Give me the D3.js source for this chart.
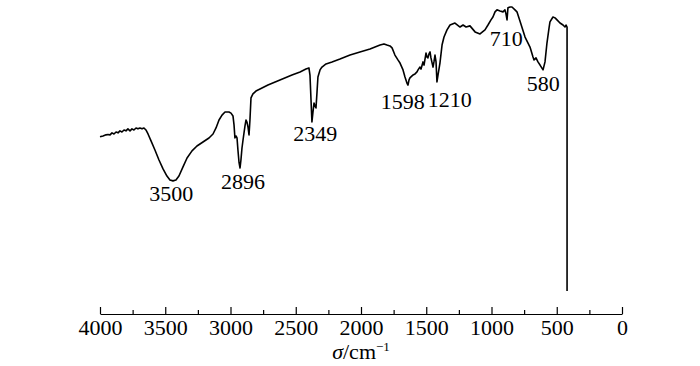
<!DOCTYPE html>
<html>
<head>
<meta charset="utf-8">
<script src="https://cdn.jsdelivr.net/npm/d3@7"></script>
<style>
html,body{margin:0;padding:0;background:#fff;}
svg{display:block;}
text{font-family:"Liberation Serif","Times New Roman",serif;fill:#000;}
</style>
</head>
<body>
<svg id="chart" width="700" height="366"></svg>
<script>
// Wavenumber (cm^-1) and transmittance (arbitrary %)
const wavenumber = [4000,3977,3954,3939,3923,3908,3893,3877,3862,3847,3832,3816,3801,3786,3770,3755,3740,3724,3709,3694,3678,3663,3648,3632,3609,3579,3548,3517,3487,3464,3441,3418,3395,3364,3333,3295,3257,3211,3165,3134,3111,3088,3065,3042,3012,2996,2981,2973,2966,2958,2950,2943,2935,2927,2920,2912,2904,2889,2881,2874,2866,2858,2851,2843,2828,2805,2774,2713,2621,2529,2467,2422,2399,2391,2383,2376,2368,2360,2353,2345,2337,2330,2314,2299,2268,2222,2161,2084,2008,1931,1854,1824,1801,1778,1762,1740,1717,1701,1678,1663,1648,1640,1632,1625,1609,1602,1586,1571,1563,1548,1540,1525,1517,1502,1494,1487,1479,1471,1464,1448,1441,1433,1425,1418,1410,1395,1379,1364,1341,1318,1280,1241,1218,1195,1165,1126,1088,1050,1027,1004,989,973,958,935,912,897,889,881,874,858,843,820,805,782,743,705,682,674,659,644,628,605,590,575,559,552,529,513,498,475,452,437,429,421,421];
const transmittance = [53.9,54.2,54.6,54.7,54.6,55.3,54.9,55.6,55.3,56.0,55.6,56.3,56.0,56.7,56.0,56.7,56.3,57.0,56.7,57.0,56.7,57.0,56.3,54.9,52.5,49.3,45.8,42.7,40.2,38.8,38.5,38.8,40.2,43.4,46.5,49.0,50.7,52.1,53.5,54.9,57.0,59.8,61.5,62.6,62.6,62.2,61.2,58.1,53.5,54.2,53.5,49.3,45.1,43.0,45.8,50.0,52.8,57.7,59.8,59.1,57.4,54.6,59.8,67.5,68.9,69.9,70.6,72.0,73.8,75.5,76.6,77.6,78.0,75.5,66.8,59.1,62.6,65.7,64.7,64.0,69.6,74.8,77.3,78.3,79.4,80.1,81.1,82.5,83.6,84.6,86.0,86.4,86.0,85.7,85.0,82.5,80.8,79.7,77.3,74.8,72.7,72.0,73.8,74.5,75.2,75.5,75.9,76.6,77.3,78.3,77.6,80.1,79.0,83.2,81.8,81.5,82.9,83.6,81.5,78.3,80.1,82.5,80.1,73.1,75.5,79.7,86.0,88.8,91.3,93.0,93.7,92.3,93.0,92.3,92.7,90.6,89.9,91.3,93.0,94.8,95.8,97.6,98.3,97.9,97.6,98.3,96.9,94.8,99.0,99.3,99.3,98.3,97.6,94.4,88.8,85.3,81.8,80.8,81.5,80.1,79.0,77.3,80.1,86.7,92.0,94.1,95.8,95.5,94.8,93.7,93.0,92.3,93.0,92.3,0];

const majorTicks = [4000,3500,3000,2500,2000,1500,1000,500,0];
const minorTicks = [3750,3250,2750,2250,1750,1250,750,250];

const peakLabels = ["3500","2896","2349","1598","1210","710","580"];
const peakX = [3454,2904,2351,1681,1320,887,604];      // label centre, in wavenumber
const peakY = [31.5,35.7,52.4,63.6,64.3,85.7,70.0];      // label baseline, in transmittance units

const svg = d3.select("#chart");
const x = d3.scaleLinear().domain([4000,0]).range([100,622]);
const y = d3.scaleLinear().domain([0,100]).range([291,5]);

const pts = wavenumber.map((w,i)=>[w,transmittance[i]]);
svg.append("path")
  .datum(pts)
  .attr("fill","none")
  .attr("stroke","#000")
  .attr("stroke-width",1.6)
  .attr("stroke-linejoin","round")
  .attr("d", d3.line().x(d=>x(d[0])).y(d=>y(d[1])));

const axisY = 314;
const gMinor = svg.append("g").attr("transform",`translate(0,${axisY})`)
  .call(d3.axisBottom(x).tickValues(minorTicks).tickSizeInner(-4).tickSizeOuter(0).tickFormat(""));
gMinor.select(".domain").remove();
gMinor.selectAll("line").attr("stroke","#000").attr("stroke-width",1.2);

const gMajor = svg.append("g").attr("transform",`translate(0,${axisY})`)
  .call(d3.axisBottom(x).tickValues(majorTicks).tickSizeInner(-7).tickSizeOuter(0).tickPadding(5).tickFormat(d3.format("d")));
gMajor.select(".domain").attr("stroke","#000").attr("stroke-width",1.2);
gMajor.selectAll("line").attr("stroke","#000").attr("stroke-width",1.2);
gMajor.selectAll("text").attr("font-size",22).attr("font-family","Liberation Serif").attr("fill","#000");

svg.append("g").selectAll("text").data(peakLabels).join("text")
  .attr("x",(d,i)=>x(peakX[i]))
  .attr("y",(d,i)=>y(peakY[i]))
  .attr("text-anchor","middle")
  .attr("font-size",22)
  .text(d=>d);

const t = svg.append("text").attr("x",361).attr("y",359).attr("text-anchor","middle").attr("font-size",22);
t.append("tspan").attr("font-style","italic").text("σ");
t.append("tspan").text("/cm");
t.append("tspan").attr("font-size",13).attr("dy",-8).text("−1");
</script>
</body>
</html>
